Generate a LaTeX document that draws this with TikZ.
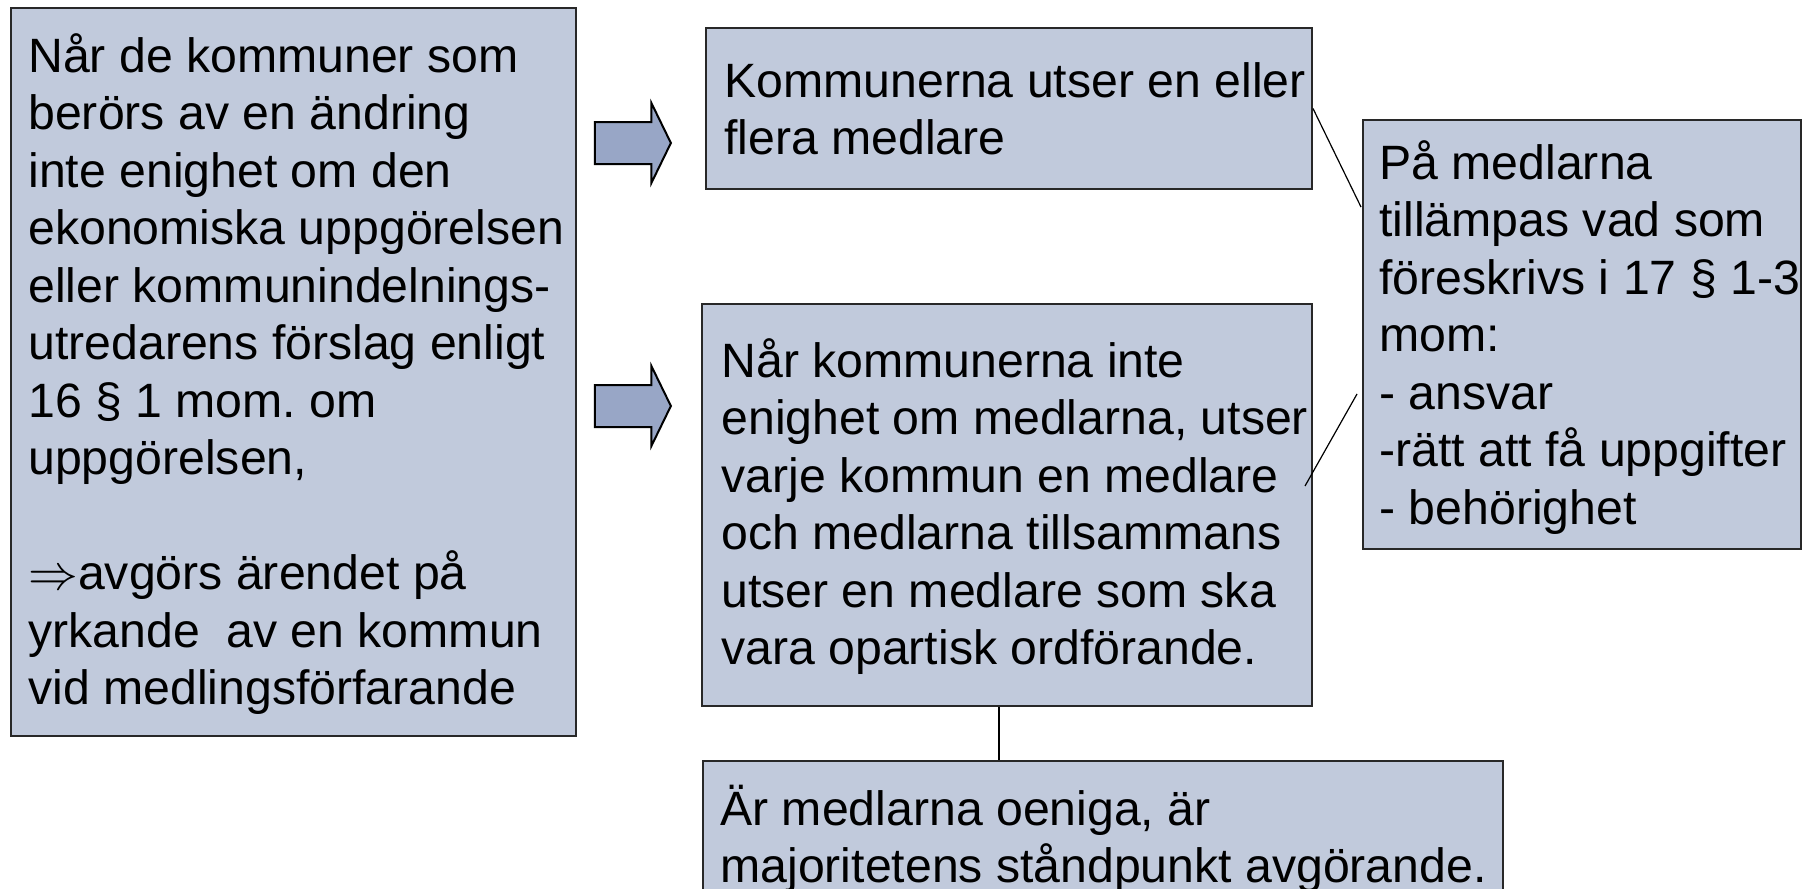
\documentclass[tikz,border=0pt]{standalone}
\usepackage{fontspec}
\setmainfont{Liberation Sans}
\usepackage{amsmath}
\usepackage{amssymb}
\usepackage{tikz}
\usetikzlibrary{calc}
\usetikzlibrary{arrows.meta}
\usetikzlibrary{shapes}
\usetikzlibrary{shapes.arrows}
\definecolor{boxfill}{RGB}{193,202,220}
\definecolor{arrowfill}{RGB}{152,166,198}
\definecolor{boxline}{RGB}{40,40,40}
\tikzset{>=latex}
\tikzstyle{box} = [draw=boxline, fill=boxfill, line width=1pt, inner sep=0, anchor=north west]
\tikzstyle{txt} = [draw=none, inner sep=0, anchor=north west, align=left, font={\fontsize{24.1}{28.75}\selectfont\lineskiplimit=-20pt\frenchspacing}]
\tikzstyle{blockarrow} = [single arrow, draw=black, fill=arrowfill, line width=1pt, inner xsep=0, inner ysep=10pt, single arrow head extend=9.5pt, single arrow tip angle=128, minimum height=38pt, anchor=tip]
\tikzstyle{link} = [-, draw=black, line width=0.6pt]
\newcommand{\fl}{\rule{0pt}{24pt}}

\begin{document}
\begin{tikzpicture}[x=0.5pt, y=-0.5pt]
\useasboundingbox (0,0) rectangle (1805,889);
\clip (0,0) rectangle (1805,889);
%\node [draw=none] at (900,0) {};
\node [box, minimum width=282.5pt, minimum height=364pt] (K) at (10, 7) {};
\node [box, minimum width=303pt, minimum height=80.5pt] (U) at (705, 27) {};
\node [box, minimum width=305pt, minimum height=201pt] (M) at (701, 303) {};
\node [box, minimum width=219pt, minimum height=214.5pt] (P) at (1362, 119) {};
\node [box, minimum width=400pt, minimum height=75pt] (O) at (702, 760) {};
\node [txt] (Kt) at (28, 24) {\fl N\aa r de kommuner som\\ber\"ors av en \"andring\\inte enighet om den\\ekonomiska uppg\"orelsen\\eller kommunindelnings-\\utredarens f\"orslag enligt\\16 \S{} 1 mom. om\\uppg\"orelsen,\\[28.75pt]$\Rightarrow$avg\"ors \"arendet p\aa\\yrkande\ \ av en kommun\\vid medlingsf\"orfarande};
\node [txt] (Ut) at (724, 49) {\fl Kommunerna utser en eller\\flera medlare};
\node [txt] (Mt) at (721, 329) {\fl N\aa r kommunerna inte\\enighet om medlarna, utser\\varje kommun en medlare\\och medlarna tillsammans\\utser en medlare som ska\\vara opartisk ordf\"orande.};
\node [txt] (Pt) at (1379, 131) {\fl P\aa{} medlarna\\till\"ampas vad som\\f\"oreskrivs i 17 \S{} 1-3\\mom:\\- ansvar\\-r\"att att f\aa{} uppgifter\\- beh\"orighet};
\node [txt] (Ot) at (720, 777) {\fl \"Ar medlarna oeniga, \"ar\\majoritetens st\aa ndpunkt avg\"orande.};
\node [blockarrow] (a1) at (672, 143) {};
\node [blockarrow] (a2) at (672, 406) {};
\coordinate (p1) at (1361, 207);
\coordinate (m1) at (1305, 486);
\coordinate (p2) at (1357, 394);
\draw [link] (U.east) to (p1);
\draw [link] (m1) to (p2);
\draw [-, line width=1pt] ([xshift=-4pt]M.south) to ([xshift=-4pt]M.south |- O.north);
\end{tikzpicture}
\end{document}
